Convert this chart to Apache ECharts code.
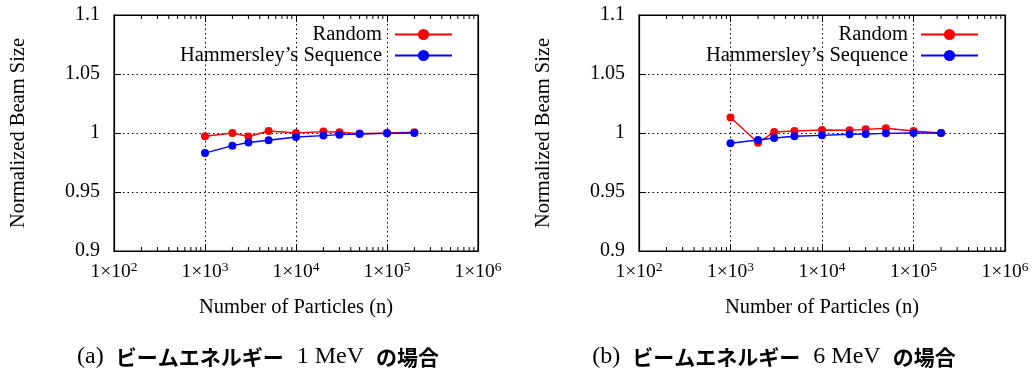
<!DOCTYPE html>
<html><head><meta charset="utf-8">
<script src="https://cdn.jsdelivr.net/npm/echarts@6/dist/echarts.min.js"></script>
<style>html,body{margin:0;padding:0;background:#fff}#wrap{width:1032px;height:372px;position:relative}
#a{position:absolute;left:0;top:0;width:516px;height:372px}#b{position:absolute;left:516px;top:0;width:516px;height:372px}</style>
</head><body><div id="wrap"><div id="a"></div><div id="b"></div></div>
<script>
// ---- data ----
var particles = [1000, 2000, 3000, 5000, 10000, 20000, 30000, 50000, 100000, 200000];
var random1MeV = [0.9972, 1.0000, 0.9970, 1.0017, 1.0000, 1.0012, 1.0006, 0.9995, 1.0000, 1.0006];
var hammersley1MeV = [0.9830, 0.9893, 0.9919, 0.9938, 0.9966, 0.9978, 0.9986, 0.9992, 0.9997, 1.0000];
var random6MeV = [1.0132, 0.9918, 1.0008, 1.0017, 1.0025, 1.0023, 1.0031, 1.0040, 1.0017, 1.0000];
var hammersley6MeV = [0.9913, 0.9941, 0.9958, 0.9972, 0.9980, 0.9989, 0.9992, 0.9997, 1.0000, 1.0000];
var seriesNames = ['Random', "Hammersley\u2019s Sequence"];
var xTitle = 'Number of Particles (n)';
var yTitle = 'Normalized Beam Size';
var captions = [['(a)', 'ビームエネルギー', '1 MeV', 'の場合'], ['(b)', 'ビームエネルギー', '6 MeV', 'の場合']];
var decades = [100, 1000, 10000, 100000];
var minorMultipliers = [2, 3, 4, 5, 6, 7, 8, 9];

var SERIF = 'Liberation Serif';
var CJK = 'Noto Sans CJK JP';

function minorTicks() {
  var out = [];
  decades.forEach(function (d) { minorMultipliers.forEach(function (m) { out.push([d * m]); }); });
  return out;
}

function makeOption(rnd, ham, grid, legendRight, cap) {
  var pairs = function (ys) { return particles.map(function (x, i) { return [x, ys[i]]; }); };
  var xLabel = {
    fontFamily: SERIF, fontSize: 19.5, color: '#000', margin: 9,
    formatter: function (v) { return '1×10{s|' + Math.round(Math.log10(v)) + '}'; },
    rich: { s: { fontFamily: SERIF, fontSize: 13.5, padding: [0, 0, 9, 0], color: '#000' } }
  };
  return {
    animation: false,
    textStyle: { fontFamily: SERIF },
    grid: Object.assign({ show: true, borderColor: '#000', borderWidth: 1.2, backgroundColor: 'transparent', containLabel: false }, grid),
    legend: {
      data: seriesNames, orient: 'vertical', right: legendRight, top: 24, align: 'right',
      itemWidth: 57, itemHeight: 14, itemGap: 0, padding: 0,
      textStyle: { fontFamily: SERIF, fontSize: 20.5, color: '#000', lineHeight: 19, padding: [0, 8, 0, 0] }
    },
    xAxis: [{
      type: 'log', logBase: 10, min: 100, max: 1000000, position: 'bottom',
      name: xTitle, nameLocation: 'middle', nameGap: 46,
      nameTextStyle: { fontFamily: SERIF, fontSize: 20.5, color: '#000' },
      axisLine: { show: true, onZero: false, lineStyle: { color: '#000', width: 1.2 } },
      axisTick: { show: true, inside: true, length: 7, lineStyle: { color: '#000' } },
      axisLabel: xLabel,
      splitLine: { show: true, lineStyle: { color: '#000', width: 1, type: [1.5, 3] } },
      minorTick: { show: false }
    }, {
      type: 'log', logBase: 10, min: 100, max: 1000000, position: 'top',
      axisLine: { show: true, onZero: false, lineStyle: { color: '#000', width: 1.2 } },
      axisTick: { show: true, inside: true, length: 7, lineStyle: { color: '#000' } },
      axisLabel: { show: false }, splitLine: { show: false }
    }],
    yAxis: [{
      type: 'value', min: 0.9, max: 1.1, interval: 0.05, position: 'left',
      name: yTitle, nameLocation: 'middle', nameGap: 85, nameRotate: 90,
      nameTextStyle: { fontFamily: SERIF, fontSize: 20.5, color: '#000' },
      axisLine: { show: true, onZero: false, lineStyle: { color: '#000', width: 1.2 } },
      axisTick: { show: true, inside: true, length: 7, lineStyle: { color: '#000' } },
      axisLabel: { fontFamily: SERIF, fontSize: 20, color: '#000', margin: 14 },
      splitLine: { show: true, lineStyle: { color: '#000', width: 1, type: [1.5, 3] } }
    }, {
      type: 'value', min: 0.9, max: 1.1, interval: 0.05, position: 'right',
      axisLine: { show: true, onZero: false, lineStyle: { color: '#000', width: 1.2 } },
      axisTick: { show: true, inside: true, length: 7, lineStyle: { color: '#000' } },
      axisLabel: { show: false }, splitLine: { show: false }
    }],
    graphic: [{
      type: 'text', left: 'center', top: 345,
      style: {
        text: '{s|' + cap[0] + '}{j|' + cap[1] + '}{s|' + cap[2] + '}{k|' + cap[3] + '}',
        rich: {
          s: { fontFamily: SERIF, fontSize: 24, fill: '#000', fontWeight: 'normal', padding: [0, 12, 0, 0] },
          j: { fontFamily: CJK, fontSize: 21, fill: '#000', fontWeight: 'bold', padding: [0, 13, 0, 0] },
          k: { fontFamily: CJK, fontSize: 21, fill: '#000', fontWeight: 'bold' }
        }
      }
    }],
    series: [{
      name: 'minor', type: 'custom', xAxisIndex: 0, yAxisIndex: 0, silent: true, clip: false, z: 5,
      data: minorTicks(),
      renderItem: function (params, api) {
        var b = api.coord([api.value(0), 0.9]);
        var t = api.coord([api.value(0), 1.1]);
        return { type: 'group', children: [
          { type: 'line', shape: { x1: b[0], y1: b[1], x2: b[0], y2: b[1] - 4 }, style: { stroke: '#000', lineWidth: 1 } },
          { type: 'line', shape: { x1: t[0], y1: t[1], x2: t[0], y2: t[1] + 4 }, style: { stroke: '#000', lineWidth: 1 } }
        ] };
      }
    }, {
      name: seriesNames[0], type: 'line', data: pairs(rnd), color: '#ff0000',
      symbol: 'circle', symbolSize: 8, lineStyle: { width: 1.4, color: '#ff0000' }, itemStyle: { color: '#ff0000' }, z: 3
    }, {
      name: seriesNames[1], type: 'line', data: pairs(ham), color: '#0000ff',
      symbol: 'circle', symbolSize: 8, lineStyle: { width: 1.4, color: '#0000ff' }, itemStyle: { color: '#0000ff' }, z: 4
    }]
  };
}

var ca = echarts.init(document.getElementById('a'), null, { renderer: 'canvas' });
ca.setOption(makeOption(random1MeV, hammersley1MeV, { left: 113, top: 15, width: 365, height: 236 }, 63, captions[0]));
var cb = echarts.init(document.getElementById('b'), null, { renderer: 'canvas' });
cb.setOption(makeOption(random6MeV, hammersley6MeV, { left: 123, top: 15, width: 366, height: 236 }, 53, captions[1]));
</script></body></html>
